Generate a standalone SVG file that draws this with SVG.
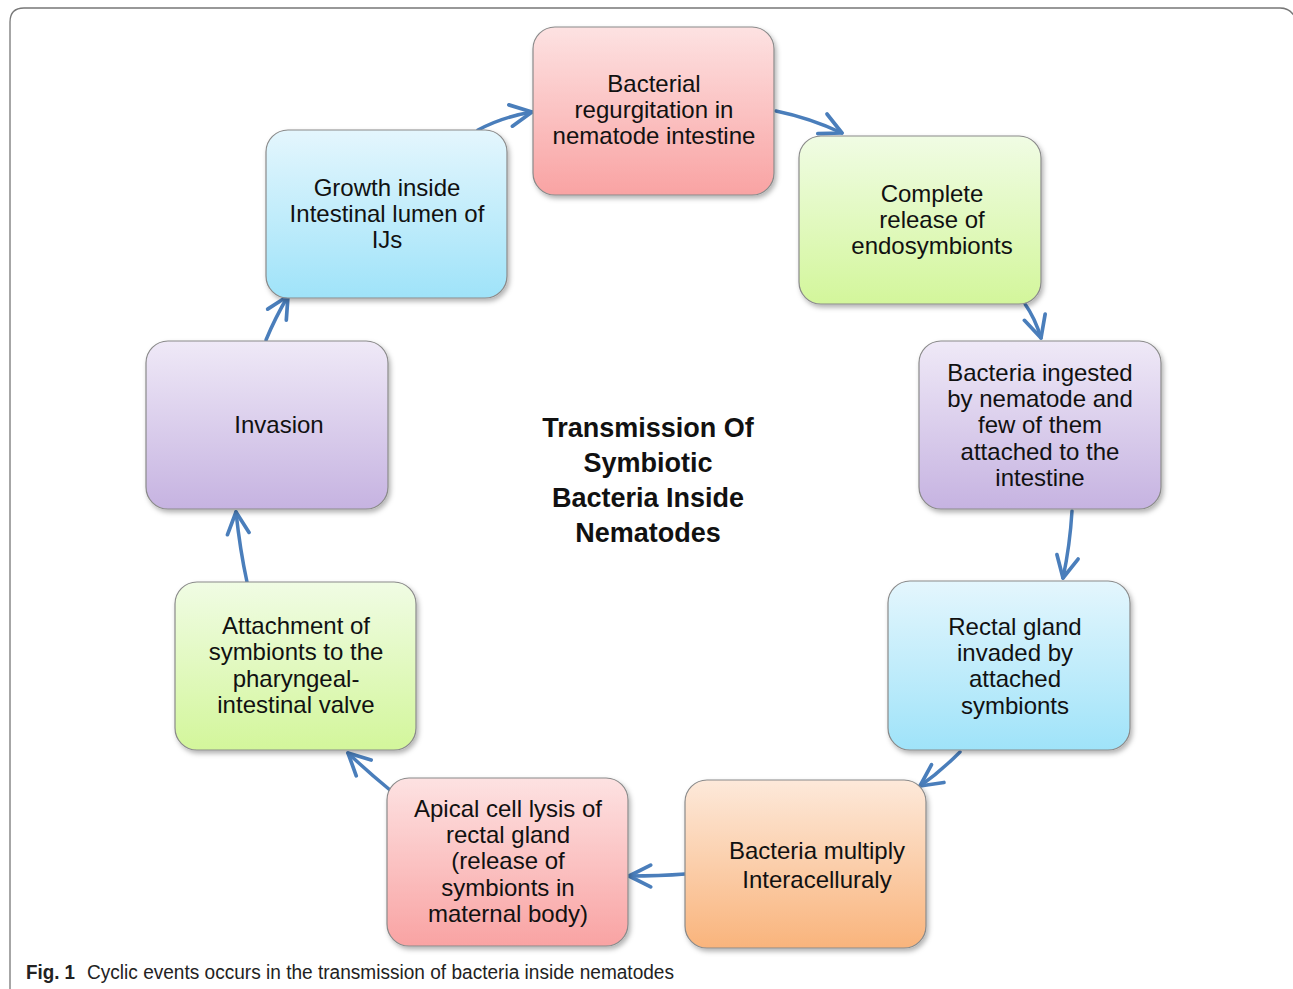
<svg xmlns="http://www.w3.org/2000/svg" width="1293" height="989" viewBox="0 0 1293 989">
<style>
.box{stroke:#8a8a8a;stroke-width:1.2}
.t{font-family:"Liberation Sans",Arial,sans-serif;font-size:24px;fill:#111;text-anchor:middle}
.title{font-family:"Liberation Sans",Arial,sans-serif;font-size:27px;font-weight:bold;fill:#111;text-anchor:middle}
.con{fill:none;stroke:#4a7ebb;stroke-width:3.5;stroke-linecap:round;marker-end:url(#arr)}
.cap{font-family:"Liberation Sans",Arial,sans-serif;font-size:20px;fill:#222}
</style>
<defs>
<marker id="arr" viewBox="0 0 12 12" refX="11" refY="6" markerWidth="26" markerHeight="26" markerUnits="userSpaceOnUse" orient="auto">
<path d="M1,1 L11,6 L1,11" fill="none" stroke="#4a7ebb" stroke-width="1.7" stroke-linecap="round" stroke-linejoin="round"/>
</marker>
<filter id="sh" x="-10%" y="-10%" width="125%" height="125%">
<feDropShadow dx="2" dy="3" stdDeviation="2.5" flood-color="#000" flood-opacity="0.3"/>
</filter>
<linearGradient id="gRed" x1="0" y1="0" x2="0" y2="1"><stop offset="0" stop-color="#fde2e2"/><stop offset="1" stop-color="#f9a3a3"/></linearGradient>
<linearGradient id="gGreen" x1="0" y1="0" x2="0" y2="1"><stop offset="0" stop-color="#f0fce4"/><stop offset="1" stop-color="#d3f69b"/></linearGradient>
<linearGradient id="gPurple" x1="0" y1="0" x2="0" y2="1"><stop offset="0" stop-color="#efe9f7"/><stop offset="1" stop-color="#c6b3e1"/></linearGradient>
<linearGradient id="gBlue" x1="0" y1="0" x2="0" y2="1"><stop offset="0" stop-color="#e4f6fd"/><stop offset="1" stop-color="#9fe3f9"/></linearGradient>
<linearGradient id="gOrange" x1="0" y1="0" x2="0" y2="1"><stop offset="0" stop-color="#fde9da"/><stop offset="1" stop-color="#f9b47c"/></linearGradient>
</defs>
<rect x="0" y="0" width="1293" height="989" fill="#fff"/>
<path d="M10,1000 L10,22 Q10,8 24,8 L1280,8 Q1292,8 1296,20" fill="none" stroke="#777" stroke-width="1.3"/>

<g id="connectors">
<path class="con" d="M478,130 Q502,117 532,112"/>
<path class="con" d="M776,111 Q810,118 842,133"/>
<path class="con" d="M1025,304 Q1035,318 1041,338"/>
<path class="con" d="M1072,511 Q1070,545 1063,578"/>
<path class="con" d="M960,752 Q940,772 920,786"/>
<path class="con" d="M685,874 Q660,876 629,876"/>
<path class="con" d="M390,790 Q368,772 348,753"/>
<path class="con" d="M247,582 Q240,550 236,512"/>
<path class="con" d="M266,340 Q275,318 288,296"/>
</g>

<g id="n1"><rect class="box" filter="url(#sh)" x="533" y="27" width="241" height="168" rx="22" fill="url(#gRed)"/>
<text class="t" x="654" y="92">Bacterial</text><text class="t" x="654" y="118">regurgitation in</text><text class="t" x="654" y="144">nematode intestine</text></g>

<g id="n2"><rect class="box" filter="url(#sh)" x="799" y="136" width="242" height="168" rx="22" fill="url(#gGreen)"/>
<text class="t" x="932" y="202">Complete</text><text class="t" x="932" y="228">release of</text><text class="t" x="932" y="254">endosymbionts</text></g>

<g id="n3"><rect class="box" filter="url(#sh)" x="919" y="341" width="242" height="168" rx="22" fill="url(#gPurple)"/>
<text class="t" x="1040" y="381">Bacteria ingested</text><text class="t" x="1040" y="407">by nematode and</text><text class="t" x="1040" y="433">few of them</text><text class="t" x="1040" y="460">attached to the</text><text class="t" x="1040" y="486">intestine</text></g>

<g id="n4"><rect class="box" filter="url(#sh)" x="888" y="581" width="242" height="169" rx="22" fill="url(#gBlue)"/>
<text class="t" x="1015" y="635">Rectal gland</text><text class="t" x="1015" y="661">invaded by</text><text class="t" x="1015" y="687">attached</text><text class="t" x="1015" y="714">symbionts</text></g>

<g id="n5"><rect class="box" filter="url(#sh)" x="685" y="780" width="241" height="168" rx="22" fill="url(#gOrange)"/>
<text class="t" x="817" y="859">Bacteria multiply</text><text class="t" x="817" y="888">Interacelluraly</text></g>

<g id="n6"><rect class="box" filter="url(#sh)" x="387" y="778" width="241" height="168" rx="22" fill="url(#gRed)"/>
<text class="t" x="508" y="817">Apical cell lysis of</text><text class="t" x="508" y="843">rectal gland</text><text class="t" x="508" y="869">(release of</text><text class="t" x="508" y="896">symbionts in</text><text class="t" x="508" y="922">maternal body)</text></g>

<g id="n7"><rect class="box" filter="url(#sh)" x="175" y="582" width="241" height="168" rx="22" fill="url(#gGreen)"/>
<text class="t" x="296" y="634">Attachment of</text><text class="t" x="296" y="660">symbionts to the</text><text class="t" x="296" y="687">pharyngeal-</text><text class="t" x="296" y="713">intestinal valve</text></g>

<g id="n8"><rect class="box" filter="url(#sh)" x="146" y="341" width="242" height="168" rx="22" fill="url(#gPurple)"/>
<text class="t" x="279" y="433">Invasion</text></g>

<g id="n9"><rect class="box" filter="url(#sh)" x="266" y="130" width="241" height="168" rx="22" fill="url(#gBlue)"/>
<text class="t" x="387" y="196">Growth inside</text><text class="t" x="387" y="222">Intestinal lumen of</text><text class="t" x="387" y="248">IJs</text></g>

<g id="center">
<text class="title" x="648" y="437">Transmission Of</text>
<text class="title" x="648" y="472">Symbiotic</text>
<text class="title" x="648" y="507">Bacteria Inside</text>
<text class="title" x="648" y="542">Nematodes</text>
</g>

<g id="caption">
<text class="cap" x="26" y="979" font-weight="bold" textLength="49" lengthAdjust="spacingAndGlyphs">Fig. 1</text>
<text class="cap" x="87" y="979" textLength="587" lengthAdjust="spacingAndGlyphs">Cyclic events occurs in the transmission of bacteria inside nematodes</text>
</g>
</svg>
